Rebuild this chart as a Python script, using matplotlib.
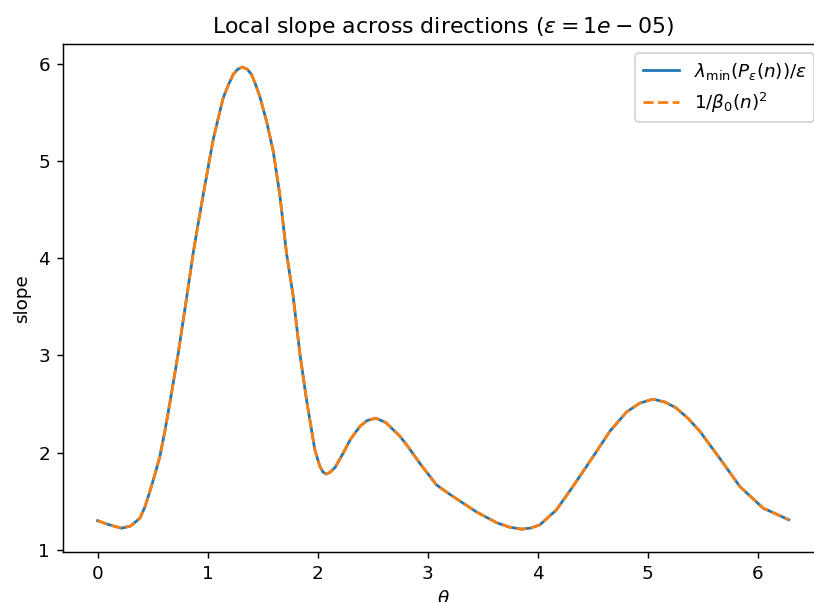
import matplotlib
matplotlib.use('Agg')
import matplotlib.pyplot as plt

# --- datos ---
eps = 1e-05
theta = [0.00, 0.10, 0.218, 0.30, 0.385, 0.43, 0.475, 0.52, 0.566, 0.61,
         0.657, 0.733, 0.809, 0.869, 0.915, 0.96, 1.006, 1.051, 1.097, 1.142,
         1.188, 1.233, 1.275, 1.315, 1.36, 1.40, 1.439, 1.476, 1.536, 1.597,
         1.657, 1.718, 1.778, 1.839, 1.90, 1.975, 2.02, 2.05, 2.08, 2.115,
         2.16, 2.233, 2.30, 2.385, 2.45, 2.53, 2.62, 2.748, 2.81, 2.93,
         3.08, 3.14, 3.23, 3.445, 3.627, 3.74, 3.855, 3.94, 4.02, 4.17,
         4.32, 4.505, 4.657, 4.81, 4.93, 5.05, 5.16, 5.26, 5.37, 5.475,
         5.657, 5.84, 6.05, 6.283]
slope_lam = [1.30, 1.26, 1.223, 1.245, 1.326, 1.44, 1.60, 1.77, 1.96, 2.21,
             2.51, 3.02, 3.59, 4.05, 4.36, 4.65, 4.94, 5.22, 5.44, 5.65,
             5.78, 5.89, 5.945, 5.966, 5.945, 5.89, 5.78, 5.66, 5.41, 5.10,
             4.65, 4.05, 3.61, 3.02, 2.54, 2.03, 1.86, 1.80, 1.78, 1.80,
             1.85, 1.995, 2.14, 2.27, 2.33, 2.355, 2.31, 2.17, 2.08, 1.89,
             1.67, 1.62, 1.55, 1.39, 1.28, 1.235, 1.213, 1.225, 1.257, 1.41,
             1.65, 1.96, 2.22, 2.42, 2.51, 2.55, 2.52, 2.46, 2.35, 2.22,
             1.94, 1.65, 1.43, 1.31]
slope_beta = list(slope_lam)  # ambas curvas coinciden

DPI = 132
fig = plt.figure(figsize=(814 / DPI, 602 / DPI), dpi=DPI)
ax = fig.add_axes([0.0774, 0.0826, 0.934, 0.8443])

ax.plot(theta, slope_lam, label=r'$\lambda_{\min}(P_\varepsilon(n))/\varepsilon$')
ax.plot(theta, slope_beta, '--', label=r'$1/\beta_0(n)^2$')
ax.set_xlabel(r'$\theta$')
ax.set_ylabel('slope')
ax.set_title(rf'Local slope across directions ($\varepsilon={eps}$)')
ax.legend(loc='upper right')

fig.savefig('out.png', dpi=DPI)
